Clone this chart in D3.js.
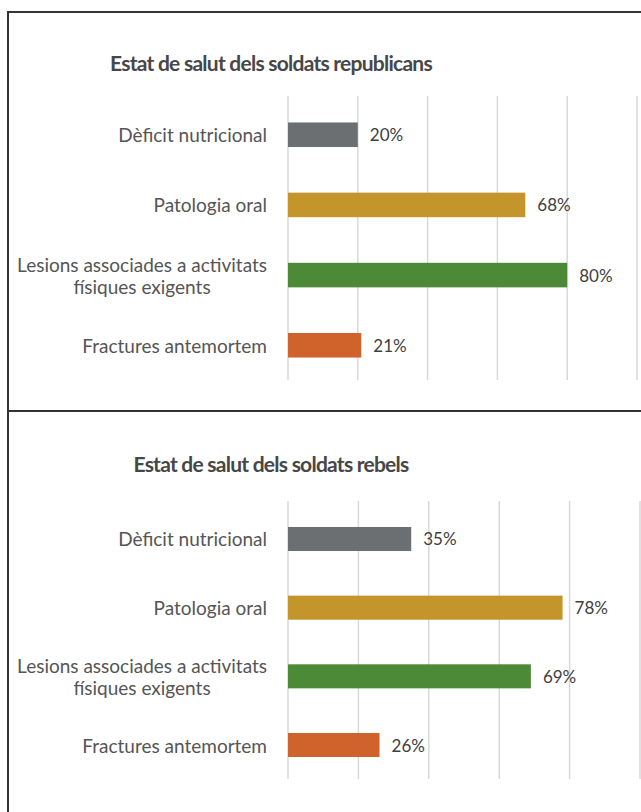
<!DOCTYPE html>
<html>
<head>
<meta charset="utf-8">
<script src="https://cdn.jsdelivr.net/npm/d3@7"></script>
<style>
  body { margin: 0; background: #fff; }
  svg { display: block; }
</style>
</head>
<body>
<div id="chart"></div>
<script>
// Dades
const categories = ["Dèficit nutricional", "Patologia oral", "Lesions associades a activitats físiques exigents", "Fractures antemortem"];
const republicans = [20, 68, 80, 21];
const rebels = [35, 78, 69, 26];
const titles = ["Estat de salut dels soldats republicans", "Estat de salut dels soldats rebels"];
const ticks = [0, 20, 40, 60, 80, 100];
const colors = ["#6c6f71", "#c3952b", "#4c8a37", "#d0622b"];

const W = 641, H = 812;

const svg = d3.select("#chart")
  .append("svg")
  .attr("width", W)
  .attr("height", H);

svg.append("rect").attr("width", W).attr("height", H).attr("fill", "#fff");

// Marcs dels panells
svg.append("path")
  .attr("d", `M8,${H} L8,12 L${W},12 M8,411 L${W},411`)
  .attr("fill", "none")
  .attr("stroke", "#333")
  .attr("stroke-width", 2);

function drawPanel(values, title, opts) {
  const g = svg.append("g");

  const x = d3.scaleLinear().domain([0, 100]).range([288, opts.xEnd]);
  const y = d3.scaleBand().domain(categories).range(opts.yRange).paddingInner(0.65).paddingOuter(0.32);

  // Títol
  g.append("text")
    .attr("x", 271)
    .attr("y", opts.titleY)
    .attr("text-anchor", "middle")
    .attr("dominant-baseline", "central")
    .attr("font-family", "Lato, sans-serif")
    .attr("font-weight", "bold")
    .attr("font-size", 21)
    .attr("letter-spacing", -0.75)
    .attr("fill", "#474747")
    .text(title);

  // Línies de la graella
  g.selectAll(".grid")
    .data(ticks)
    .enter()
    .append("line")
    .attr("x1", d => x(d))
    .attr("x2", d => x(d))
    .attr("y1", opts.yRange[0] - 4)
    .attr("y2", opts.yRange[1])
    .attr("stroke", "#d9d9d9")
    .attr("stroke-width", 1.5);

  // Barres
  g.selectAll(".bar")
    .data(values)
    .enter()
    .append("rect")
    .attr("x", x(0))
    .attr("y", (d, i) => y(categories[i]))
    .attr("width", d => x(d) - x(0))
    .attr("height", y.bandwidth())
    .attr("fill", (d, i) => colors[i]);

  // Etiquetes de valor
  g.selectAll(".val")
    .data(values)
    .enter()
    .append("text")
    .attr("x", d => x(d) + 12)
    .attr("y", (d, i) => y(categories[i]) + y.bandwidth() / 2)
    .attr("dominant-baseline", "central")
    .attr("font-family", "Lato, sans-serif")
    .attr("font-size", 17)
    .attr("fill", "#404040")
    .text(d => d + "%");

  // Etiquetes de categoria (amb salt de línia si cal)
  categories.forEach(c => {
    const cy = y(c) + y.bandwidth() / 2;
    const t = g.append("text")
      .attr("font-family", "Lato, sans-serif")
      .attr("font-size", 19)
      .attr("fill", "#555")
      .attr("text-anchor", "middle");

    // partir en línies
    const words = c.split(" ");
    const lines = [];
    let cur = [];
    const probe = t.append("tspan");
    words.forEach(w => {
      cur.push(w);
      probe.text(cur.join(" "));
      if (probe.node().getComputedTextLength() > 258 && cur.length > 1) {
        cur.pop();
        lines.push(cur.join(" "));
        cur = [w];
      }
    });
    lines.push(cur.join(" "));
    probe.remove();

    const widths = lines.map(l => {
      const p = t.append("tspan").text(l);
      const w = p.node().getComputedTextLength();
      p.remove();
      return w;
    });
    const maxW = d3.max(widths);
    const lh = 22;
    const cx = 267 - maxW / 2;
    lines.forEach((l, i) => {
      t.append("tspan")
        .attr("x", cx)
        .attr("y", cy + (i - (lines.length - 1) / 2) * lh)
        .attr("dominant-baseline", "central")
        .text(l);
    });
  });
}

drawPanel(republicans, titles[0], { titleY: 62, yRange: [100, 380], xEnd: 637 });
drawPanel(rebels, titles[1], { titleY: 463, yRange: [505, 779], xEnd: 640 });
</script>
</body>
</html>
